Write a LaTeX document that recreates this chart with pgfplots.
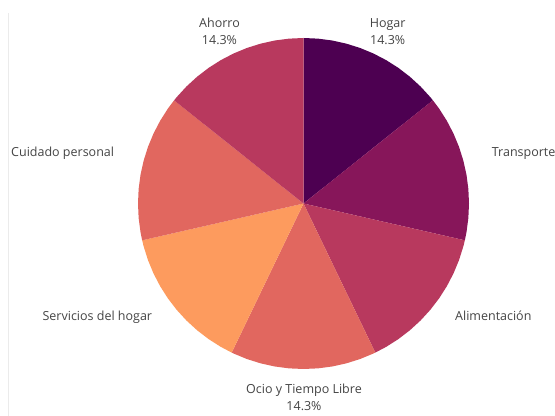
\documentclass[border=0pt]{standalone}
\usepackage{pgfplots}
\pgfplotsset{compat=1.18}
\usepgfplotslibrary{polar}
\usepackage{fontspec}
\setmainfont{Open Sans}
\definecolor{cHogar}{HTML}{4D0051}
\definecolor{cTrans}{HTML}{87165A}
\definecolor{cAlim}{HTML}{B8395E}
\definecolor{cOcio}{HTML}{E1675F}
\definecolor{cServ}{HTML}{FD9B5E}
\definecolor{cCuid}{HTML}{E1675F}
\definecolor{cAhor}{HTML}{B8395E}
\definecolor{txt}{HTML}{444444}
\begin{document}
\begin{tikzpicture}
\useasboundingbox (0,0) rectangle (555bp,416bp);
\draw[color=black!8, line width=1.3bp] (8.5bp,0) -- (8.5bp,403bp);
% Seven equal shares of 14.3% each, clockwise from 12 o'clock
\begin{polaraxis}[
  at={(303.5bp,212.5bp)}, anchor=center,
  scale only axis, width=331bp, height=331bp,
  hide axis, clip=false,
  ymin=0, ymax=1,
]
% Hogar 14.3%
\addplot[fill=cHogar, draw=none, mark=none] coordinates {(0,0) (90,1) (85,1) (80,1) (75,1) (70,1) (65,1) (60,1) (55,1) (50,1) (45,1) (40,1) (38.571,1) (0,0)};
% Transporte 14.3%
\addplot[fill=cTrans, draw=none, mark=none] coordinates {(0,0) (38.571,1) (35,1) (30,1) (25,1) (20,1) (15,1) (10,1) (5,1) (0,1) (-5,1) (-10,1) (-12.857,1) (0,0)};
% Alimentacion 14.3%
\addplot[fill=cAlim, draw=none, mark=none] coordinates {(0,0) (-12.857,1) (-15,1) (-20,1) (-25,1) (-30,1) (-35,1) (-40,1) (-45,1) (-50,1) (-55,1) (-60,1) (-64.286,1) (0,0)};
% Ocio y Tiempo Libre 14.3%
\addplot[fill=cOcio, draw=none, mark=none] coordinates {(0,0) (-64.286,1) (-65,1) (-70,1) (-75,1) (-80,1) (-85,1) (-90,1) (-95,1) (-100,1) (-105,1) (-110,1) (-115,1) (-115.714,1) (0,0)};
% Servicios del hogar 14.3%
\addplot[fill=cServ, draw=none, mark=none] coordinates {(0,0) (-115.714,1) (-120,1) (-125,1) (-130,1) (-135,1) (-140,1) (-145,1) (-150,1) (-155,1) (-160,1) (-165,1) (-167.143,1) (0,0)};
% Cuidado personal 14.3%
\addplot[fill=cCuid, draw=none, mark=none] coordinates {(0,0) (-167.143,1) (-170,1) (-175,1) (-180,1) (-185,1) (-190,1) (-195,1) (-200,1) (-205,1) (-210,1) (-215,1) (-218.571,1) (0,0)};
% Ahorro 14.3%
\addplot[fill=cAhor, draw=none, mark=none] coordinates {(0,0) (-218.571,1) (-220,1) (-225,1) (-230,1) (-235,1) (-240,1) (-245,1) (-250,1) (-255,1) (-260,1) (-265,1) (-270,1) (0,0)};
\end{polaraxis}
\begin{scope}[every node/.style={inner sep=0pt, text=txt, font=\fontsize{12.5bp}{15bp}\selectfont}]
\node[anchor=base] at (219.5bp,388.3bp) {Ahorro};
\node[anchor=base] at (219.5bp,371bp) {14.3\%};
\node[anchor=base] at (387.7bp,388.3bp) {Hogar};
\node[anchor=base] at (387.7bp,371bp) {14.3\%};
\node[anchor=base west] at (491.7bp,259bp) {Transporte};
\node[anchor=base west] at (11bp,259bp) {Cuidado personal};
\node[anchor=base east] at (152.3bp,95bp) {Servicios del hogar};
\node[anchor=base west] at (455bp,95bp) {Alimentación};
\node[anchor=base] at (304bp,22.7bp) {Ocio y Tiempo Libre};
\node[anchor=base] at (304bp,5.6bp) {14.3\%};
\end{scope}
\end{tikzpicture}
\end{document}
